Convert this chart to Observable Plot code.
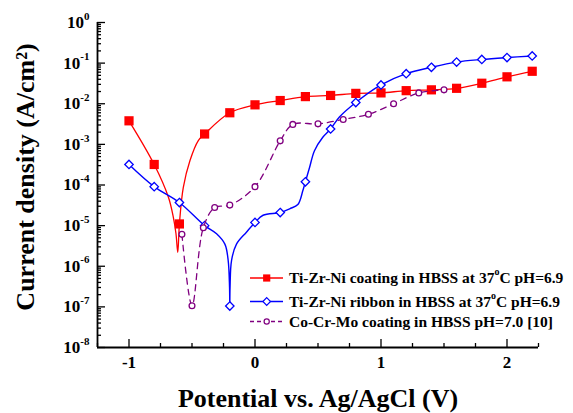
<!DOCTYPE html>
<html><head><meta charset="utf-8">
<script src="https://cdn.jsdelivr.net/npm/d3@7"></script>
<script src="https://cdn.jsdelivr.net/npm/@observablehq/plot@0.6"></script>
<style>body{margin:0;background:#fff} #chart{width:573px;height:413px}</style>
</head><body><div id="chart"></div>
<script>
const FONT = '"Liberation Serif", "Times New Roman", Times, serif';

// Axis settings / tick labels
const xDomain = [-1.25, 2.25];
const yDomain = [1e-8, 1];
const xMajor = [-1, 0, 1, 2];
const xMajorLabels = ["-1", "0", "1", "2"];
const xMinor = [-1.25, -0.75, -0.5, -0.25, 0.25, 0.5, 0.75, 1.25, 1.5, 1.75, 2.25];
const yExponents = [-8, -7, -6, -5, -4, -3, -2, -1, 0];
const xLabel = "Potential vs. Ag/AgCl (V)";
const yLabel = "Current density (A/cm²)";

// Series 1: Ti-Zr-Ni coating (red squares)
const coatingV = [-1.0, -0.8, -0.6, -0.4, -0.2, 0.0, 0.2, 0.4, 0.6, 0.8, 1.0, 1.2, 1.4, 1.6, 1.8, 2.0, 2.2];
const coatingI = [3.8e-3, 3.2e-4, 1.1e-5, 1.8e-3, 6.0e-3, 9.4e-3, 1.2e-2, 1.5e-2, 1.6e-2, 1.8e-2, 1.85e-2, 2.1e-2, 2.2e-2, 2.4e-2, 3.2e-2, 4.6e-2, 6.3e-2];
// fitted curve through the coating data
const coatingLineV = [-1.0, -0.8, -0.687, -0.648, -0.627, -0.613, -0.6, -0.569, -0.516, -0.45, -0.4, -0.2, 0.0, 0.2, 0.4, 0.6, 0.8, 1.0, 1.2, 1.4, 1.6, 1.8, 2.0, 2.2];
const coatingLineI = [3.8e-3, 3.2e-4, 5.0e-5, 1.6e-5, 6.3e-6, 2.2e-6, 1.1e-5, 8.7e-5, 4.0e-4, 1.24e-3, 1.8e-3, 6.0e-3, 9.4e-3, 1.2e-2, 1.5e-2, 1.6e-2, 1.8e-2, 1.85e-2, 2.1e-2, 2.2e-2, 2.4e-2, 3.2e-2, 4.6e-2, 6.3e-2];

// Series 2: Ti-Zr-Ni ribbon (blue diamonds)
const ribbonV = [-1.0, -0.8, -0.6, -0.4, -0.2, 0.0, 0.2, 0.4, 0.6, 0.8, 1.0, 1.2, 1.4, 1.6, 1.8, 2.0, 2.2];
const ribbonI = [3.2e-4, 9.1e-5, 3.7e-5, 1.0e-5, 1.05e-7, 1.2e-5, 2.1e-5, 1.2e-4, 2.4e-3, 1.07e-2, 2.9e-2, 5.5e-2, 7.9e-2, 1.06e-1, 1.23e-1, 1.37e-1, 1.5e-1];
const ribbonLineV = [-1.0, -0.8, -0.6, -0.4, -0.305, -0.239, -0.213, -0.202, -0.2, -0.198, -0.186, -0.147, -0.068, 0.0, 0.064, 0.2, 0.275, 0.34, 0.38, 0.4, 0.433, 0.472, 0.538, 0.6, 0.67, 0.8, 1.0, 1.2, 1.4, 1.6, 1.8, 2.0, 2.2];
const ribbonLineI = [3.2e-4, 9.1e-5, 3.7e-5, 1.0e-5, 6.3e-6, 3.5e-6, 1.4e-6, 3.0e-7, 1.05e-7, 3.0e-7, 1.4e-6, 3.5e-6, 6.9e-6, 1.2e-5, 1.8e-5, 2.1e-5, 2.6e-5, 3.3e-5, 7.3e-5, 1.2e-4, 2.7e-4, 7.0e-4, 1.5e-3, 2.4e-3, 4.7e-3, 1.07e-2, 2.9e-2, 5.5e-2, 7.9e-2, 1.06e-1, 1.23e-1, 1.37e-1, 1.5e-1];

// Series 3: Co-Cr-Mo coating (purple circles, dashed)
const cocrV = [-0.58, -0.5, -0.41, -0.32, -0.2, 0.0, 0.2, 0.3, 0.5, 0.7, 0.9, 1.1, 1.3, 1.5];
const cocrI = [6.1e-6, 1.07e-7, 8.9e-6, 2.8e-5, 3.2e-5, 9.1e-5, 1.22e-3, 3.1e-3, 3.2e-3, 4.1e-3, 5.5e-3, 1.0e-2, 1.85e-2, 2.2e-2];

const seriesNames = [
  ["Ti-Zr-Ni coating in HBSS at 37", "o", "C pH=6.9"],
  ["Ti-Zr-Ni ribbon in HBSS at 37", "o", "C pH=6.9"],
  ["Co-Cr-Mo coating in HBSS pH=7.0 [10]", "", ""]
];
const RED = "#ff0000", BLUE = "#0000ff", PURPLE = "#800080";

const zip = (V, I) => V.map((v, k) => ({v, i: I[k]}));
const coating = zip(coatingV, coatingI), coatingLine = zip(coatingLineV, coatingLineI);
const ribbon = zip(ribbonV, ribbonI), ribbonLine = zip(ribbonLineV, ribbonLineI);
const cocr = zip(cocrV, cocrI);

const yMajor = yExponents.map(e => Math.pow(10, e));
const yMinor = [];
yExponents.slice(0, -1).forEach(e => { for (let m = 2; m <= 9; m++) yMinor.push(m * Math.pow(10, e)); });

const chart = Plot.plot({
  width: 573, height: 413,
  marginLeft: 97, marginRight: 35, marginTop: 22, marginBottom: 66,
  style: {fontFamily: FONT, background: "white", color: "black", overflow: "visible"},
  x: {domain: xDomain},
  y: {type: "log", domain: yDomain},
  marks: [
    Plot.axisX({ticks: xMinor, tickSize: -4, tickFormat: () => "", label: null, strokeWidth: 1.3}),
    Plot.axisX({ticks: xMajor, tickSize: -8, tickPadding: 16, tickFormat: d => xMajorLabels[xMajor.indexOf(d)], label: null, fontSize: 17, fontWeight: "bold", strokeWidth: 1.3}),
    Plot.axisY({ticks: yMinor, tickSize: -4, tickFormat: () => "", label: null, strokeWidth: 1.3}),
    Plot.axisY({ticks: yMajor, tickSize: -8, tickPadding: 16, tickFormat: d => "10^" + Math.round(Math.log10(d)), label: null, fontSize: 17, fontWeight: "bold", strokeWidth: 1.3}),
    Plot.ruleX([xDomain[0]], {strokeWidth: 1.8}),
    Plot.ruleY([yDomain[0]], {strokeWidth: 1.8}),
    Plot.text([yLabel], {text: d => d, frameAnchor: "left", textAnchor: "middle", lineAnchor: "middle", rotate: -90, dx: -72, dy: -8, fontSize: 26, fontWeight: "bold"}),
    Plot.text([xLabel], {text: d => d, frameAnchor: "bottom", textAnchor: "middle", lineAnchor: "bottom", dy: 59, fontSize: 26, fontWeight: "bold"}),
    Plot.line(coatingLine, {x: "v", y: "i", stroke: RED, strokeWidth: 1.3, curve: "catmull-rom"}),
    Plot.dot(coating, {x: "v", y: "i", symbol: "square", r: 5.2, fill: RED, stroke: "none"}),
    Plot.line(ribbonLine, {x: "v", y: "i", stroke: BLUE, strokeWidth: 1.4, curve: "catmull-rom"}),
    Plot.dot(ribbon, {x: "v", y: "i", symbol: "diamond2", r: 3.8, fill: "white", stroke: BLUE, strokeWidth: 1.3}),
    Plot.line(cocr, {x: "v", y: "i", stroke: PURPLE, strokeWidth: 1.3, strokeDasharray: "6,5", curve: "catmull-rom"}),
    Plot.dot(cocr, {x: "v", y: "i", r: 2.9, fill: "white", stroke: PURPLE, strokeWidth: 1.3})
  ]
});
document.getElementById("chart").appendChild(chart);

// superscript exponents on y tick labels
const svg = d3.select(chart.tagName.toLowerCase() === "svg" ? chart : chart.querySelector("svg"));
svg.selectAll('g[aria-label="y-axis tick label"] text').each(function() {
  const t = d3.select(this);
  const s = t.text();
  const parts = s.split("^");
  if (parts.length !== 2) return;
  t.text(null);
  t.append("tspan").text(parts[0]);
  t.append("tspan").attr("font-size", 11).attr("dy", "-0.75em").text(parts[1]);
});

// legend (inside plot, bottom right)
const legendRows = [278, 301.5, 321.5];
const lg = svg.append("g").attr("font-family", FONT).attr("font-weight", "bold").attr("font-size", 15.5).attr("text-anchor", "start");
const styles = [
  {stroke: RED, dash: null, sym: "square"},
  {stroke: BLUE, dash: null, sym: "diamond"},
  {stroke: PURPLE, dash: "4,3", sym: "circle"}
];
styles.forEach((s, k) => {
  const y = legendRows[k];
  lg.append("line").attr("x1", 250).attr("x2", 283).attr("y1", y).attr("y2", y)
    .attr("stroke", s.stroke).attr("stroke-width", 1.3).attr("stroke-dasharray", s.dash);
  const cx = 266.7;
  if (s.sym === "square") lg.append("rect").attr("x", cx - 3.6).attr("y", y - 3.6).attr("width", 7.2).attr("height", 7.2).attr("fill", RED);
  if (s.sym === "diamond") lg.append("path").attr("d", `M${cx},${y-3.8}L${cx+3.8},${y}L${cx},${y+3.8}L${cx-3.8},${y}Z`).attr("fill", "white").attr("stroke", BLUE).attr("stroke-width", 1.2);
  if (s.sym === "circle") lg.append("circle").attr("cx", cx).attr("cy", y).attr("r", 2.6).attr("fill", "white").attr("stroke", PURPLE).attr("stroke-width", 1.2);
  const tx = lg.append("text").attr("x", 289).attr("y", y).attr("dy", "0.35em").attr("text-anchor", "start");
  const [a, sup, b] = seriesNames[k];
  tx.append("tspan").text(a);
  if (sup) {
    tx.append("tspan").attr("font-size", 10).attr("dy", "-0.8em").text(sup);
    tx.append("tspan").attr("dy", "0.5em").text(b);
  }
});
</script>
</body></html>
